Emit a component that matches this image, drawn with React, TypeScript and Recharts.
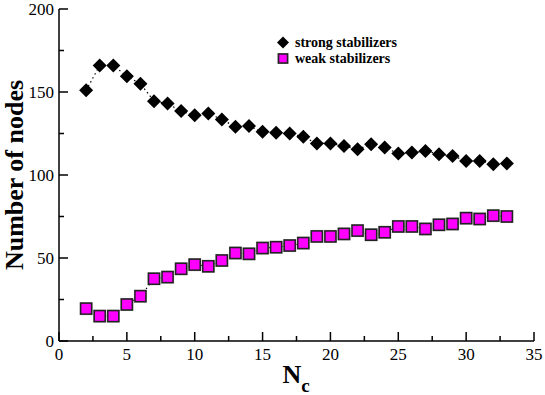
import React from 'react'
import { LineChart, Line, XAxis, YAxis, Legend } from 'recharts'

const nc = [2, 3, 4, 5, 6, 7, 8, 9, 10, 11, 12, 13, 14, 15, 16, 17, 18, 19, 20, 21, 22, 23, 24, 25, 26, 27, 28, 29, 30, 31, 32, 33]
const strong = [151, 166, 166, 159.5, 155, 144.5, 143, 138.5, 136, 137, 133.5, 129, 129.5, 126, 125.5, 125, 123, 119, 119, 117.5, 115.5, 118.5, 116.5, 113, 113.5, 114.5, 112.5, 111.5, 108.5, 108.5, 106.5, 107]
const weak = [19.5, 15, 15, 22, 27, 37.5, 38.5, 43.5, 46, 45, 48.5, 53, 52.5, 56, 56.5, 57.5, 59, 63, 63, 64.5, 66.5, 64, 65.5, 69, 69, 67.5, 70, 70.5, 74, 73.5, 75.5, 75]

const xMajor = [0, 5, 10, 15, 20, 25, 30, 35]
const xMinor = [2.5, 7.5, 12.5, 17.5, 22.5, 27.5, 32.5]
const yMajor = [0, 50, 100, 150, 200]
const yMinor = [25, 75, 125, 175]

const seriesNames = ['strong stabilizers', 'weak stabilizers']

const rows = nc.map((n, i) => ({ n, strong: strong[i], weak: weak[i] }))
const xTicks = [...xMajor, ...xMinor].sort((a, b) => a - b)
const yTicks = [...yMajor, ...yMinor].sort((a, b) => a - b)

const FONT = '"Liberation Serif", "Times New Roman", serif'
const MAJOR = 9
const MINOR = 5

const labelStyle = { fontFamily: FONT, fontSize: 17, fontWeight: 'normal' as const, fill: '#000' }
const titleStyle = { fontFamily: FONT, fontWeight: 'bold' as const, fill: '#000' }

const Diamond = ({ cx, cy, size = 7 }: any) => (
  <path d={`M${cx},${cy - size}L${cx + size},${cy}L${cx},${cy + size}L${cx - size},${cy}Z`} fill="#000" />
)

const Square = ({ cx, cy, size = 5.5 }: any) => (
  <g>
    <rect x={cx - size - 0.5} y={cy - size - 0.5} width={size * 2 + 1} height={size * 2 + 1} fill="none" stroke="#9a9a9a" strokeWidth={1} />
    <rect x={cx - size} y={cy - size} width={size * 2} height={size * 2} fill="#ff00ff" stroke="#222" strokeWidth={1.5} />
  </g>
)

const BottomTick = ({ x, y, payload }: any) => {
  const major = xMajor.includes(payload.value)
  return (
    <g>
      <line x1={x} y1={y} x2={x} y2={y - (major ? MAJOR : MINOR)} stroke="#000" strokeWidth={1.5} />
      {major && (
        <text x={x} y={y + 19} textAnchor="middle" style={labelStyle}>{payload.value}</text>
      )}
    </g>
  )
}

const TopTick = ({ x, y, payload }: any) => {
  const major = xMajor.includes(payload.value)
  return <line x1={x} y1={y} x2={x} y2={y + (major ? MAJOR : MINOR)} stroke="#000" strokeWidth={1.5} />
}

const LeftTick = ({ x, y, payload }: any) => {
  const major = yMajor.includes(payload.value)
  return (
    <g>
      <line x1={x} y1={y} x2={x + (major ? MAJOR : MINOR)} y2={y} stroke="#000" strokeWidth={1.5} />
      {major && (
        <text x={x - 5} y={y + 6} textAnchor="end" style={labelStyle}>{payload.value}</text>
      )}
    </g>
  )
}

const RightTick = ({ x, y, payload }: any) => {
  const major = yMajor.includes(payload.value)
  return <line x1={x} y1={y} x2={x - (major ? MAJOR : MINOR)} y2={y} stroke="#000" strokeWidth={1.5} />
}

const LegendBox = () => (
  <div style={{ fontFamily: FONT, fontWeight: 'bold', fontSize: 14, color: '#000', lineHeight: '15.5px' }}>
    {seriesNames.map((name, i) => (
      <div key={name} style={{ display: 'flex', alignItems: 'center' }}>
        <svg width={16} height={15} style={{ marginRight: 3 }}>
          {i === 0 ? <Diamond cx={7} cy={7.5} size={6} /> : <Square cx={7} cy={7.5} size={4.5} />}
        </svg>
        <span>{name}</span>
      </div>
    ))}
  </div>
)

export default function App() {
  return (
    <div style={{ position: 'absolute', left: 0, top: 0, background: '#fff' }}>
      <LineChart width={545} height={395} data={rows} margin={{ top: 9, right: 11, bottom: 0, left: 0 }}>
        <XAxis
          dataKey="n"
          type="number"
          domain={[0, 35]}
          ticks={xTicks}
          interval={0}
          allowDataOverflow
          height={54}
          tickSize={0}
          tickMargin={0}
          tickLine={false}
          tick={<BottomTick />}
          axisLine={{ stroke: '#000', strokeWidth: 1.5 }}
          label={({ viewBox }: any) => (
            <text x={viewBox.x + viewBox.width / 2 - 14} y={383} style={titleStyle}>
              <tspan style={{ fontSize: 26 }}>N</tspan>
              <tspan style={{ fontSize: 19 }} dy={9}>c</tspan>
            </text>
          )}
        />
        <XAxis
          xAxisId="top"
          orientation="top"
          dataKey="n"
          type="number"
          domain={[0, 35]}
          ticks={xTicks}
          interval={0}
          allowDataOverflow
          height={0}
          tickSize={0}
          tickMargin={0}
          tickLine={false}
          tick={<TopTick />}
          axisLine={{ stroke: '#000', strokeWidth: 1.5 }}
        />
        <YAxis
          type="number"
          domain={[0, 200]}
          ticks={yTicks}
          interval={0}
          allowDataOverflow
          width={59}
          tickSize={0}
          tickMargin={0}
          tickLine={false}
          tick={<LeftTick />}
          axisLine={{ stroke: '#000', strokeWidth: 1.5 }}
          label={({ viewBox }: any) => {
            const cy = viewBox.y + viewBox.height / 2
            return (
              <text x={23} y={cy} transform={`rotate(-90 23 ${cy})`} textAnchor="middle" style={{ ...titleStyle, fontSize: 26 }}>
                Number of nodes
              </text>
            )
          }}
        />
        <YAxis
          yAxisId="right"
          orientation="right"
          type="number"
          domain={[0, 200]}
          ticks={yTicks}
          interval={0}
          allowDataOverflow
          width={0}
          tickSize={0}
          tickMargin={0}
          tickLine={false}
          tick={<RightTick />}
          axisLine={{ stroke: '#000', strokeWidth: 1.5 }}
        />
        <Legend
          layout="vertical"
          align="center"
          verticalAlign="middle"
          content={() => <LegendBox />}
          wrapperStyle={{ left: 276, top: 35, width: 'auto' }}
        />
        <Line
          dataKey="strong"
          name={seriesNames[0]}
          stroke="#000"
          strokeWidth={1.2}
          strokeDasharray="1.5 3"
          isAnimationActive={false}
          dot={(p: any) => <Diamond key={`s-${p.index}`} cx={p.cx} cy={p.cy} />}
        />
        <Line
          dataKey="weak"
          name={seriesNames[1]}
          stroke="#000"
          strokeWidth={1.2}
          strokeDasharray="1.5 3"
          isAnimationActive={false}
          dot={(p: any) => <Square key={`w-${p.index}`} cx={p.cx} cy={p.cy} />}
        />
      </LineChart>
    </div>
  )
}
